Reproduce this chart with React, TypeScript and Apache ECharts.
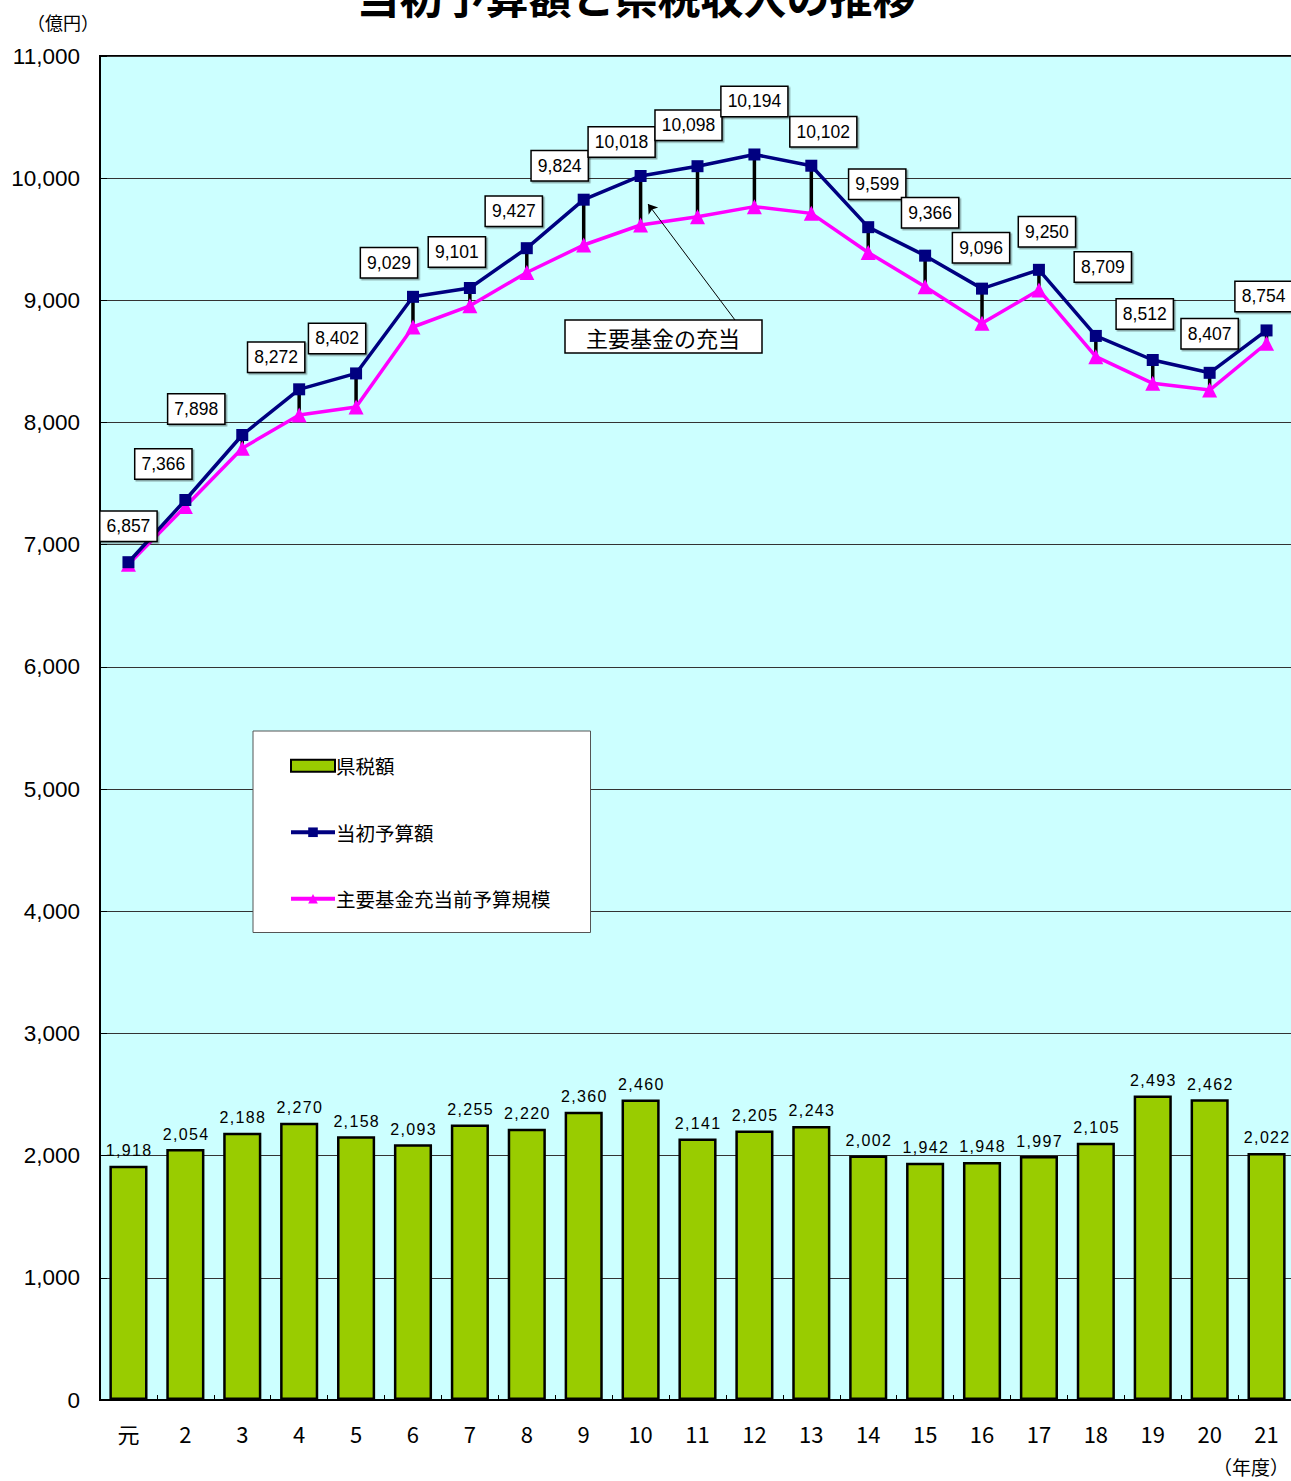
import React, { useEffect, useRef } from "react";
import * as echarts from "echarts";

const categories = ["元", "2", "3", "4", "5", "6", "7", "8", "9", "10", "11", "12", "13", "14", "15", "16", "17", "18", "19", "20", "21"];
const taxRevenue = [1918, 2054, 2188, 2270, 2158, 2093, 2255, 2220, 2360, 2460, 2141, 2205, 2243, 2002, 1942, 1948, 1997, 2105, 2493, 2462, 2022];
const initialBudget = [6857, 7366, 7898, 8272, 8402, 9029, 9101, 9427, 9824, 10018, 10098, 10194, 10102, 9599, 9366, 9096, 9250, 8709, 8512, 8407, 8754];
const preFundBudget = [6840, 7313, 7790, 8062, 8128, 8782, 8955, 9228, 9453, 9617, 9685, 9767, 9712, 9392, 9112, 8812, 9085, 8539, 8321, 8266, 8649];
const yTicks = { min: 0, max: 11000, interval: 1000 };

// label box offsets (px) relative to each point of 当初予算額
const labelOffsets = [
  [0, -36], [-22, -36], [-46, -26], [-23, -32], [-19, -35], [-24, -34], [-13, -36],
  [-13, -37], [-24, -34], [-19, -34], [-9, -41], [0, -53], [12, -34], [9, -43],
  [5, -43], [-1, -41], [8, -38], [7, -69], [-8, -46], [0, -39], [-3, -34],
];

const NUM_FONT = "'Liberation Sans', Arial, sans-serif";
const JP_FONT = "'Noto Sans CJK JP', sans-serif";
const fmt = (v: number) => v.toLocaleString("en-US");
const spaced = (v: number) => fmt(v).split("").join("\u200A");

export default function App() {
  const ref = useRef<HTMLDivElement>(null);
  useEffect(() => {
    if (!ref.current) return;
    const chart = echarts.init(ref.current, undefined, { renderer: "svg" });
    chart.setOption({
      animation: false,
      backgroundColor: "#ffffff",
      grid: {
        left: 100, right: -4, top: 56, bottom: 81,
        outerBoundsMode: "none",
        containLabel: false,
        show: true, backgroundColor: "#CCFFFF", borderColor: "#000", borderWidth: 2,
      },
      legend: {
        orient: "vertical",
        left: 253, top: 731,
        padding: [25, 40, 24, 36],
        itemGap: 47,
        itemWidth: 44, itemHeight: 12,
        backgroundColor: "#ffffff",
        borderColor: "#555", borderWidth: 1,
        textStyle: { fontFamily: JP_FONT, fontSize: 19.5, color: "#000", padding: [0, 0, 0, -4] },
        data: [
          { name: "県税額", icon: "rect" },
          { name: "当初予算額", lineStyle: { width: 4 } },
          { name: "主要基金充当前予算規模", lineStyle: { width: 4 } },
        ],
      },
      xAxis: {
        type: "category",
        data: categories,
        axisLine: { lineStyle: { color: "#000", width: 2 } },
        axisTick: { show: true, inside: true, length: 5, lineStyle: { color: "#000" } },
        axisLabel: { fontFamily: JP_FONT, fontSize: 22, color: "#000", margin: 22 },
      },
      yAxis: {
        type: "value",
        min: yTicks.min, max: yTicks.max, interval: yTicks.interval,
        axisLine: { show: true, lineStyle: { color: "#000", width: 2 } },
        axisTick: { show: true, inside: true, length: 7, lineStyle: { color: "#000" } },
        splitLine: { lineStyle: { color: "#333", width: 1 } },
        axisLabel: { fontFamily: NUM_FONT, fontSize: 22.5, color: "#000", margin: 20, formatter: (v: number) => fmt(v) },
      },
      series: [
        {
          name: "県税額",
          type: "bar",
          data: taxRevenue,
          barWidth: "67%",
          itemStyle: { color: "#99CC00", borderColor: "#000", borderWidth: 2.5 },
          label: {
            show: true, position: "top", distance: 7,
            fontFamily: NUM_FONT, fontSize: 16, color: "#000",
            formatter: (p: any) => spaced(p.value),
          },
          z: 2,
        },
        {
          name: "充当",
          type: "custom",
          data: initialBudget.map((v, i) => [i, v, preFundBudget[i]]),
          renderItem: (params: any, api: any) => {
            const a = api.coord([api.value(0), api.value(1)]);
            const b = api.coord([api.value(0), api.value(2)]);
            return {
              type: "line",
              shape: { x1: a[0], y1: a[1], x2: b[0], y2: b[1] },
              style: { stroke: "#000", lineWidth: 3.5 },
            };
          },
          z: 3,
          silent: true,
        },
        {
          name: "主要基金充当前予算規模",
          type: "line",
          data: preFundBudget,
          symbol: "triangle",
          symbolSize: 15,
          lineStyle: { color: "#FF00FF", width: 3.5 },
          itemStyle: { color: "#FF00FF" },
          z: 4,
          markLine: {
            silent: true,
            symbol: ["none", "arrow"],
            symbolSize: 9,
            label: { show: false },
            lineStyle: { color: "#000", width: 1, type: "solid" },
            data: [[{ x: 735, y: 320 }, { x: 648, y: 204 }]],
          },
        },
        {
          name: "当初予算額",
          type: "line",
          data: initialBudget,
          symbol: "rect",
          symbolSize: 12,
          lineStyle: { color: "#000080", width: 3.5 },
          itemStyle: { color: "#000080" },
          label: {
            show: true,
            position: "inside",
            fontFamily: NUM_FONT, fontSize: 17.5, color: "#000",
            backgroundColor: "#fff", borderColor: "#000", borderWidth: 1.5,
            padding: [6, 6, 5, 6],
            shadowColor: "rgba(0,0,0,0.35)", shadowOffsetX: 1.5, shadowOffsetY: 1.5,
            formatter: (p: any) => fmt(p.value),
          },
          labelLayout: (p: any) => ({
            dx: labelOffsets[p.dataIndex][0],
            dy: labelOffsets[p.dataIndex][1],
            hideOverlap: false,
          }),
          z: 5,
        },
      ],
      graphic: [
        {
          type: "text", x: 636, y: -27,
          style: { text: "当初予算額と県税収入の推移", fontFamily: JP_FONT, fontSize: 43, fontWeight: "bold", fill: "#000", align: "center" },
        },
        {
          type: "text", x: 63, y: 22,
          style: { text: "（億円）", fontFamily: JP_FONT, fontSize: 18, fill: "#000", align: "center", verticalAlign: "middle" },
        },
        {
          type: "text", x: 1251, y: 1466,
          style: { text: "（年度）", fontFamily: JP_FONT, fontSize: 19, fill: "#000", align: "center", verticalAlign: "middle" },
        },
        {
          type: "group", z: 100,
          children: [
            { type: "rect", shape: { x: 565, y: 320, width: 197, height: 33 }, style: { fill: "#fff", stroke: "#000", lineWidth: 1.5 } },
            { type: "text", x: 663, y: 336.5, style: { text: "主要基金の充当", fontFamily: JP_FONT, fontSize: 22, fill: "#000", align: "center", verticalAlign: "middle" } },
          ],
        },
      ],
    });
    return () => chart.dispose();
  }, []);
  return <div ref={ref} style={{ position: "absolute", left: 0, top: 0, width: 1291, height: 1481 }} />;
}
